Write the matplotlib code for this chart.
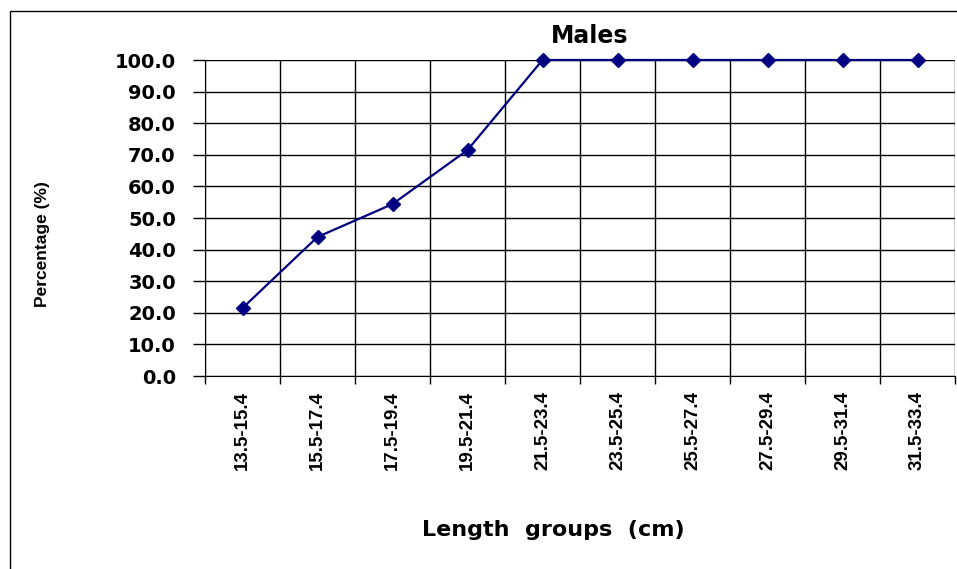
import matplotlib
matplotlib.use("Agg")
import matplotlib.pyplot as plt
from matplotlib.patches import Rectangle

groups = ["13.5-15.4", "15.5-17.4", "17.5-19.4", "19.5-21.4", "21.5-23.4",
          "23.5-25.4", "25.5-27.4", "27.5-29.4", "29.5-31.4", "31.5-33.4"]
percent = [21.5, 44.0, 54.4, 71.5, 100.0, 100.0, 100.0, 100.0, 100.0, 100.0]
yticks = [0, 10, 20, 30, 40, 50, 60, 70, 80, 90, 100]

# the source image looks stretched sideways: wide font for horizontal text,
# narrower one for the rotated labels
WIDE = ["DejaVu Sans"]
NARROW = ["Liberation Sans", "DejaVu Sans"]
plt.rcParams["font.family"] = NARROW

W, H = 957, 569
fig = plt.figure(figsize=(W / 100, H / 100), dpi=100)
ax = fig.add_axes([205 / W, 1 - 376 / H, 750 / W, 316 / H])

x = list(range(len(groups)))
ax.plot(x, percent, color="#000080", lw=1.6, marker="D", ms=7,
        markerfacecolor="#000080", markeredgecolor="#000080", zorder=3, clip_on=False)

ax.set_xlim(-0.5, len(groups) - 0.5)
ax.set_ylim(0, 100)
ax.set_yticks(yticks)
ax.set_yticklabels([f"{v:.1f}" for v in yticks], fontsize=14, fontweight="bold",
                   family=WIDE)
ax.set_xticks([i - 0.5 for i in range(len(groups) + 1)])
ax.set_xticklabels([])
ax.set_xticks(x, minor=True)
ax.set_xticklabels(groups, minor=True, rotation=90, fontsize=13.5, fontweight="bold")
ax.tick_params(axis="x", which="minor", length=0, pad=11)
ax.tick_params(axis="x", which="major", length=6, width=1, color="black", direction="out")
ax.tick_params(axis="y", length=9, width=1, direction="out", pad=12)

ax.grid(True, which="major", color="black", lw=1.0)
ax.set_axisbelow(True)
for s in ["top", "right"]:
    ax.spines[s].set_visible(False)

fig.text(590 / W, 1 - 36 / H, "Males", ha="center", va="center",
         fontsize=17, fontweight="bold", family=WIDE)
fig.text(42 / W, 1 - 244 / H, "Percentage (%)", ha="center", va="center",
         rotation=90, fontsize=12.5, fontweight="bold")
fig.text(553 / W, 1 - 530 / H, "Length  groups  (cm)", ha="center", va="center",
         fontsize=16, fontweight="bold", family=WIDE)

fig.add_artist(Rectangle((10 / W, -0.1), 1.2, 1 - 11 / H + 0.1, transform=fig.transFigure,
                         fill=False, ec="black", lw=1.0))

fig.savefig("out.png", dpi=100)
